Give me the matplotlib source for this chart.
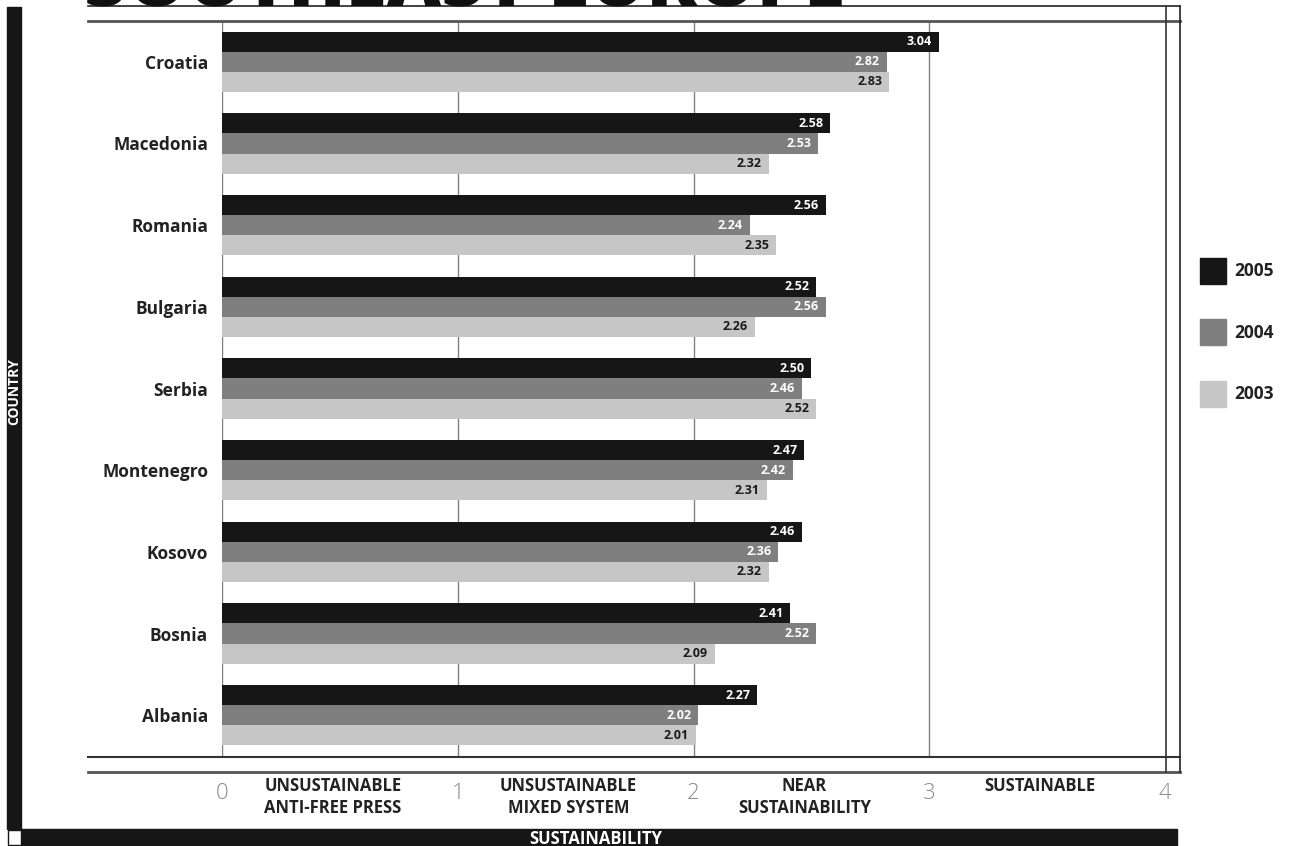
import numpy as np
import matplotlib
matplotlib.use("Agg")
import matplotlib.pyplot as plt
from matplotlib.lines import Line2D
from matplotlib.patches import Rectangle
from matplotlib.transforms import blended_transform_factory

plt.rcParams['font.family'] = ['Open Sans', 'DejaVu Sans']

countries = ["Croatia", "Macedonia", "Romania", "Bulgaria", "Serbia",
             "Montenegro", "Kosovo", "Bosnia", "Albania"]
years = ["2005", "2004", "2003"]
scores_2005 = [3.04, 2.58, 2.56, 2.52, 2.50, 2.47, 2.46, 2.41, 2.27]
scores_2004 = [2.82, 2.53, 2.24, 2.56, 2.46, 2.42, 2.36, 2.52, 2.02]
scores_2003 = [2.83, 2.32, 2.35, 2.26, 2.52, 2.31, 2.32, 2.09, 2.01]
levels = ["UNSUSTAINABLE\nANTI-FREE PRESS", "UNSUSTAINABLE\nMIXED SYSTEM",
          "NEAR\nSUSTAINABILITY", "SUSTAINABLE"]
ticks = [0, 1, 2, 3, 4]

colors = ["#161616", "#7f7f7f", "#c6c6c6"]
label_colors = ["white", "white", "#1a1a1a"]
W, H = 1289, 846


def fx(px):
    return px / W


def fy(py):
    return 1 - py / H


fig = plt.figure(figsize=(W / 100, H / 100), dpi=100)
ax = fig.add_axes([fx(222), fy(756), fx(1165) - fx(222), fy(21) - fy(756)])

bar_h = 0.245
y = np.arange(len(countries))
series = [scores_2005, scores_2004, scores_2003]
for k, vals in enumerate(series):
    pos = y + (k - 1) * bar_h
    ax.barh(pos, vals, height=bar_h, color=colors[k], zorder=2)
    for p, v in zip(pos, vals):
        ax.annotate(f"{v:.2f}", (v, p), xytext=(-5, 0), textcoords="offset points",
                    ha="right", va="center", fontsize=9, fontweight="bold",
                    color=label_colors[k], zorder=3)

for t in ticks[:-1]:
    ax.axvline(t, color="#808080", lw=1, zorder=1)

ax.set_xlim(0, 4)
ax.set_ylim(len(countries) - 0.5, -0.5)
ax.set_yticks(y)
ax.set_yticklabels(countries, fontsize=12.5, fontweight="bold", color="#222222")
ax.tick_params(axis="y", length=0, pad=10)
ax.set_xticks([])
for s in ax.spines.values():
    s.set_visible(False)

# tick numbers and level names under the axis
tr = blended_transform_factory(ax.transData, fig.transFigure)
for t in ticks:
    ax.text(t, fy(793), str(t), transform=tr, ha="center", va="center",
            fontsize=16, fontweight="light", color="#8a8a8a")
for i, lab in enumerate(levels):
    ax.text(i + 0.47, fy(777), lab, transform=tr, ha="center", va="top",
            fontsize=12, fontweight="bold", color="#222222", linespacing=1.25)

# frame lines around the plot
def hline(py, lw, c):
    fig.add_artist(Line2D([fx(88), fx(1180)], [fy(py), fy(py)], lw=lw, color=c))


def vline(px, lw, c):
    fig.add_artist(Line2D([fx(px), fx(px)], [fy(6), fy(772)], lw=lw, color=c))


hline(6.5, 1.2, "#222222")
hline(21, 2, "#555555")
hline(756.5, 1.5, "#333333")
hline(771.5, 2, "#555555")
vline(1165.5, 1.2, "#333333")
vline(1179.5, 1.2, "#222222")

# title, cropped at the top edge
fig.text(fx(84), fy(6), "SOUTHEAST EUROPE", ha="left", va="baseline",
         fontsize=54, fontweight="heavy", color="#111111")

# side and bottom bands
fig.add_artist(Rectangle((fx(7), fy(829)), fx(14), fy(7) - fy(829),
                         transform=fig.transFigure, color="#161616"))
fig.add_artist(Rectangle((fx(21), fy(846)), fx(1156), fy(829) - fy(846),
                         transform=fig.transFigure, color="#161616"))
fig.add_artist(Rectangle((fx(7.5), fy(845)), fx(13), fy(830) - fy(845),
                         transform=fig.transFigure, facecolor="white",
                         edgecolor="#161616", lw=1))
fig.text(fx(14.5), fy(392), "COUNTRY", rotation=90, ha="center", va="center",
         fontsize=10, fontweight="bold", color="white")
fig.text(fx(596), fy(839), "SUSTAINABILITY", ha="center", va="center",
         fontsize=12, fontweight="bold", color="white")

# legend
for k, yr in enumerate(years):
    top = 258 + k * 61.5
    fig.add_artist(Rectangle((fx(1200), fy(top + 26)), fx(26), fy(top) - fy(top + 26),
                             transform=fig.transFigure, color=colors[k]))
    fig.text(fx(1234), fy(top + 13), yr, ha="left", va="center",
             fontsize=12.5, fontweight="bold", color="#222222")

fig.savefig("out.png", dpi=100)
